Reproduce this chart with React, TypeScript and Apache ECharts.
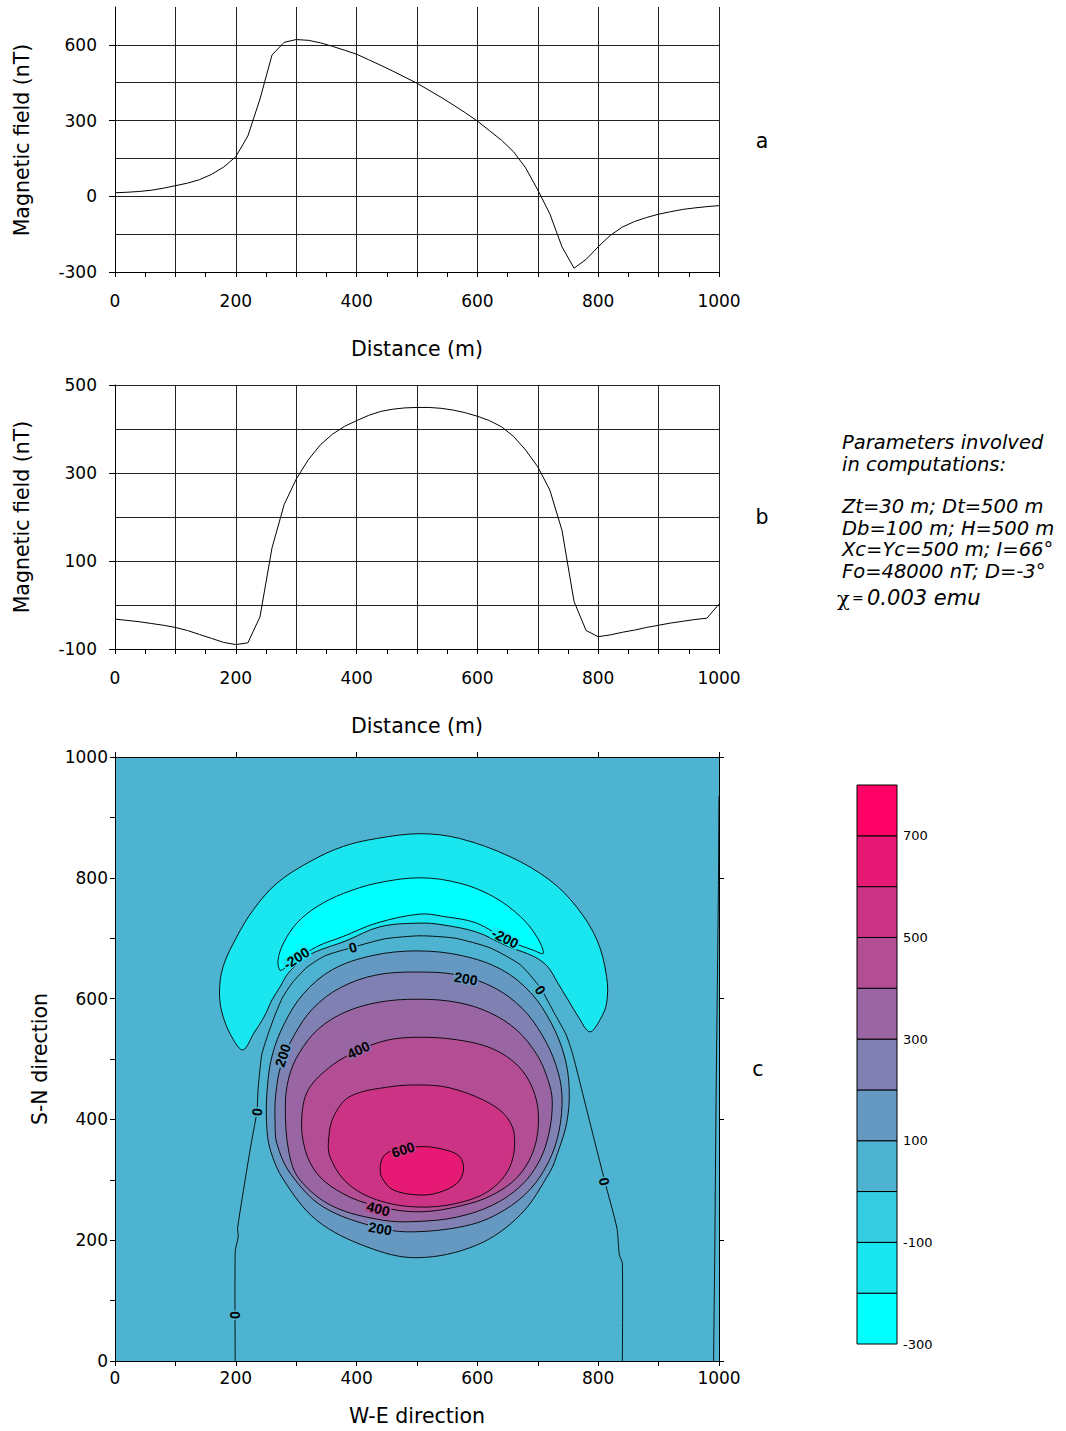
import React, { useEffect, useRef } from "react";
import * as echarts from "echarts";

// ---- Profile data (distance in m, field in nT) ----
const DIST = [
  0, 20, 40, 60, 80, 100, 120, 140, 160, 180, 200, 220, 240, 260, 280, 300, 320, 340, 360, 380,
  400, 420, 440, 460, 480, 500, 520, 540, 560, 580, 600, 620, 640, 660, 680, 700, 720, 740, 760, 780,
  800, 820, 840, 860, 880, 900, 920, 940, 960, 980, 1000,
];
const FIELD_A = [
  14, 16, 19, 24, 32, 42, 52, 66, 87, 116, 157, 239, 385, 560, 610, 621, 618, 608, 594, 579,
  563, 541, 519, 496, 472, 448, 420, 392, 362, 331, 298, 260, 222, 176, 112, 25, -70, -200, -285, -250,
  -200, -155, -122, -100, -84, -71, -61, -52, -46, -41, -37,
];
const FIELD_B = [
  -32, -35, -38, -42, -46, -51, -58, -67, -76, -85, -90, -86, -27, 130, 228, 286, 330, 364, 388, 406,
  419, 431, 440, 445, 448, 449, 449, 447, 443, 437, 429, 419, 405, 383, 352, 314, 261, 170, 8, -58,
  -72, -68, -62, -57, -51, -46, -41, -37, -33, -30, 2,
];

// ---- Tick labels ----
const PROFILE_X_LABELS = [0, 200, 400, 600, 800, 1000];
const PROFILE_A_Y_LABELS = [-300, 0, 300, 600];
const PROFILE_B_Y_LABELS = [-100, 100, 300, 500];
const MAP_AXIS_LABELS = [0, 200, 400, 600, 800, 1000];

// ---- Contour levels and colour scale ----
const LEVELS = [-300, -200, -100, 0, 100, 200, 300, 400, 500, 600, 700, 800];
const LEVEL_LABELS = [-300, -100, 100, 300, 500, 700];
const LEVEL_COLORS = [
  "#00FFFF", "#1AE6F0", "#33CCE0", "#4DB3D1", "#6699C2", "#8080B3",
  "#9966A3", "#B34D94", "#CC3385", "#E61A75", "#FF0066",
];

// ---- Contour lines of the anomaly map (W-E m, S-N m) ----
const C_NEG100 = [
  [212, 515], [196, 532], [179, 570], [173, 609], [179, 653], [202, 703], [229, 747], [268, 791],
  [323, 827], [378, 852], [433, 865], [505, 873], [571, 865], [654, 835], [720, 796], [764, 752],
  [798, 697], [814, 636], [814, 593], [803, 565], [786, 545],
  [767, 570], [750, 598], [733, 626], [717, 652], [695, 669], [649, 687], [599, 710], [543, 722],
  [505, 725], [439, 719], [381, 695], [331, 677], [306, 661], [286, 641], [273, 619], [260, 598],
  [247, 570], [230, 543],
];
const C_NEG200 = [
  [273, 647], [270, 664], [279, 692], [301, 725], [334, 752], [378, 774], [433, 791], [505, 800],
  [571, 791], [626, 769], [671, 736], [698, 703], [709, 675], [693, 680], [649, 697], [599, 725],
  [544, 736], [505, 740], [433, 725], [378, 703], [334, 686], [301, 664], [282, 651],
];
const C_ZERO = [
  [199, 0], [199, 181], [204, 206], [203, 220], [215, 297], [226, 363], [235, 413], [237, 452],
  [243, 507], [253, 540], [265, 573], [278, 603], [295, 628], [318, 652], [348, 671], [394, 685],
  [447, 699], [505, 704], [563, 700], [621, 684], [671, 656], [704, 618], [729, 573], [747, 540],
  [758, 507], [786, 396], [811, 297], [831, 220], [835, 176], [840, 162], [840, 0],
];
const C_ZERO_EAST = [[991, 0], [993, 180], [995, 420], [997, 600], [999, 780], [1000, 935]];
const C_POS100 = [
  [500, 679], [575, 671], [640, 648], [688, 610], [722, 560], [744, 505], [752, 450], [748, 395],
  [733, 345], [720, 313], [671, 242], [599, 192], [500, 171], [417, 189], [334, 233], [279, 300],
  [257, 350], [251, 393], [252, 450], [260, 505], [280, 558], [312, 608], [360, 648], [425, 671],
];
const C_POS200 = [
  [500, 644], [568, 639], [628, 618], [674, 584], [707, 540], [730, 490], [740, 440], [735, 380],
  [718, 330], [688, 285], [645, 250], [590, 226], [500, 214], [439, 220], [345, 255], [290, 311],
  [268, 360], [265, 393], [266, 440], [275, 490], [297, 540], [328, 584], [373, 618], [432, 639],
];
const C_POS300 = [
  [500, 599], [565, 594], [620, 577], [665, 548], [698, 508], [716, 468], [724, 430], [718, 375],
  [702, 330], [672, 290], [625, 258], [565, 238], [500, 231], [444, 233], [361, 256], [306, 300],
  [288, 345], [282, 421], [288, 470], [305, 510], [337, 550], [382, 578], [437, 594],
];
const C_POS400 = [
  [500, 536], [565, 532], [625, 517], [668, 488], [692, 450], [701, 407], [695, 355], [672, 311],
  [636, 281], [585, 260], [500, 247], [417, 261], [367, 283], [334, 311], [315, 349], [309, 399],
  [320, 449], [360, 490], [405, 515], [450, 531],
];
const C_POS500 = [
  [510, 457], [555, 452], [610, 432], [645, 408], [661, 375], [654, 322], [621, 283], [566, 261],
  [500, 255], [433, 267], [384, 295], [356, 338], [354, 370], [362, 405], [389, 438], [455, 454],
];
const C_POS600 = [
  [444, 338], [461, 349], [510, 355], [549, 349], [571, 338], [577, 316], [566, 294], [533, 278],
  [500, 275], [461, 283], [444, 300], [439, 316],
];

// Contour annotations: position, text, angle (deg, anticlockwise)
const LABEL_POS = [
  [300, 667], [646, 700], [394, 685], [704, 614], [581, 633], [278, 506], [403, 515],
  [477, 350], [436, 252], [439, 219], [235, 412], [199, 76], [810, 297],
];
const LABEL_TEXT = ["-200", "-200", "0", "0", "200", "200", "400", "600", "400", "200", "0", "0", "0"];
const LABEL_ANGLE = [33, -26, 16, -55, -10, 72, 25, 18, -15, -10, 83, 90, -76];
const LABEL_BAND = [1, 1, 3, 3, 4, 4, 6, 8, 7, 4, 3, 3, 3];

const PARAM_LINES = [
  "Parameters involved",
  "in computations:",
  "Zt=30 m; Dt=500 m",
  "Db=100 m; H=500 m",
  "Xc=Yc=500 m; I=66°",
  "Fo=48000 nT; D=-3°",
];

const FONT = '"DejaVu Sans", "Liberation Sans", sans-serif';

const pick = (list: number[]) => (v: number) => (list.includes(v) ? String(v) : "");

const MAP_CONTOURS = [
  { pts: C_NEG100, band: 1, closed: true },
  { pts: C_NEG200, band: 0, closed: true },
  { pts: C_ZERO, band: -1, closed: false },
  { pts: C_ZERO_EAST, band: -1, closed: false },
  { pts: C_POS100, band: 4, closed: true },
  { pts: C_POS200, band: 5, closed: true },
  { pts: C_POS300, band: 6, closed: true },
  { pts: C_POS400, band: 7, closed: true },
  { pts: C_POS500, band: 8, closed: true },
  { pts: C_POS600, band: 9, closed: true },
];

function profileXAxis(gridIndex: number) {
  return {
    gridIndex,
    type: "value",
    min: 0,
    max: 1000,
    interval: 100,
    axisLine: { show: true, onZero: false, lineStyle: { color: "#000", width: 1 } },
    axisTick: { show: true, length: 5, lineStyle: { color: "#000" } },
    minorTick: { show: true, splitNumber: 2, length: 5, lineStyle: { color: "#000" } },
    axisLabel: { margin: 20, fontSize: 17, color: "#000", fontFamily: FONT, formatter: pick(PROFILE_X_LABELS) },
    splitLine: { show: true, lineStyle: { color: "#222", width: 1 } },
  };
}

function axisName(text: string, x: number, y: number, vertical: boolean) {
  return {
    type: "text",
    x,
    y,
    rotation: vertical ? Math.PI / 2 : 0,
    style: {
      text,
      fontSize: 20.5,
      fontFamily: FONT,
      fill: "#000",
      align: "center",
      verticalAlign: "middle",
    },
  };
}

export default function App() {
  const ref = useRef<HTMLDivElement>(null);

  useEffect(() => {
    if (!ref.current) return;
    const chart = echarts.init(ref.current, null, { renderer: "svg" });

    const option: any = {
      animation: false,
      backgroundColor: "#fff",
      textStyle: { fontFamily: FONT },
      grid: [
        { left: 115, top: 7, width: 604, height: 265 },
        { left: 115, top: 385, width: 604, height: 264 },
        { left: 115, top: 757, width: 604, height: 604, show: true, backgroundColor: LEVEL_COLORS[3], borderWidth: 0 },
        { left: 857, top: 785, width: 40, height: 559 },
      ],
      xAxis: [
        profileXAxis(0),
        profileXAxis(1),
        {
          gridIndex: 2, type: "value", min: 0, max: 1000, interval: 100, position: "bottom", z: 10,
          axisLine: { show: true, onZero: false, lineStyle: { color: "#000", width: 1 } },
          axisTick: { show: true, length: 5, lineStyle: { color: "#000" } },
          axisLabel: { margin: 8, fontSize: 17, color: "#000", fontFamily: FONT, formatter: pick(MAP_AXIS_LABELS) },
          splitLine: { show: false },
        },
        {
          gridIndex: 2, type: "value", min: 0, max: 1000, interval: 200, position: "top", z: 10,
          axisLine: { show: true, onZero: false, lineStyle: { color: "#000", width: 1 } },
          axisTick: { show: true, length: 5, lineStyle: { color: "#000" } },
          axisLabel: { show: false },
          splitLine: { show: false },
        },
        { gridIndex: 3, type: "value", min: 0, max: 1, show: false },
      ],
      yAxis: [
        {
          gridIndex: 0, type: "value", min: -300, max: 750, interval: 150, position: "left",
          axisLine: { show: true, onZero: false, lineStyle: { color: "#000", width: 1 } },
          axisTick: { show: false },
          axisLabel: { margin: 18, fontSize: 17, color: "#000", fontFamily: FONT, formatter: pick(PROFILE_A_Y_LABELS) },
          splitLine: { show: true, showMaxLine: false, lineStyle: { color: "#222", width: 1 } },
        },
        {
          gridIndex: 1, type: "value", min: -100, max: 500, interval: 100, position: "left",
          axisLine: { show: true, onZero: false, lineStyle: { color: "#000", width: 1 } },
          axisTick: { show: false },
          axisLabel: { margin: 18, fontSize: 17, color: "#000", fontFamily: FONT, formatter: pick(PROFILE_B_Y_LABELS) },
          splitLine: { show: true, lineStyle: { color: "#222", width: 1 } },
        },
        {
          gridIndex: 2, type: "value", min: 0, max: 1000, interval: 100, position: "left", z: 10,
          axisLine: { show: true, onZero: false, lineStyle: { color: "#000", width: 1 } },
          axisTick: { show: true, length: 5, lineStyle: { color: "#000" } },
          axisLabel: { margin: 7, fontSize: 17, color: "#000", fontFamily: FONT, formatter: pick(MAP_AXIS_LABELS) },
          splitLine: { show: false },
        },
        {
          gridIndex: 2, type: "value", min: 0, max: 1000, interval: 200, position: "right", z: 10,
          axisLine: { show: true, onZero: false, lineStyle: { color: "#000", width: 1 } },
          axisTick: { show: true, length: 5, lineStyle: { color: "#000" } },
          axisLabel: { show: false },
          splitLine: { show: false },
        },
        {
          gridIndex: 3, type: "value", min: -300, max: 800, interval: 100, position: "right",
          axisLine: { show: false },
          axisTick: { show: false },
          axisLabel: { margin: 6, fontSize: 13, color: "#000", fontFamily: FONT, formatter: pick(LEVEL_LABELS) },
          splitLine: { show: false },
        },
        {
          gridIndex: 0, type: "value", min: -300, max: 750, interval: 300, position: "left",
          axisLine: { show: false },
          axisTick: { show: true, length: 6, customValues: PROFILE_A_Y_LABELS, lineStyle: { color: "#000" } },
          axisLabel: { show: false },
          splitLine: { show: false },
        },
        {
          gridIndex: 1, type: "value", min: -100, max: 500, interval: 200, position: "left",
          axisLine: { show: false },
          axisTick: { show: true, length: 6, lineStyle: { color: "#000" } },
          axisLabel: { show: false },
          splitLine: { show: false },
        },
      ],
      series: [
        {
          type: "line",
          xAxisIndex: 0,
          yAxisIndex: 0,
          data: DIST.map((d, i) => [d, FIELD_A[i]]),
          showSymbol: false,
          lineStyle: { color: "#000", width: 1 },
          z: 5,
        },
        {
          type: "line",
          xAxisIndex: 1,
          yAxisIndex: 1,
          data: DIST.map((d, i) => [d, FIELD_B[i]]),
          showSymbol: false,
          lineStyle: { color: "#000", width: 1 },
          z: 5,
        },
        {
          type: "custom",
          xAxisIndex: 2,
          yAxisIndex: 2,
          clip: true,
          z: 2,
          data: MAP_CONTOURS.map((c) => c.pts[0]),
          renderItem: (params: any, api: any) => {
            const c = MAP_CONTOURS[params.dataIndex];
            const points = c.pts.map((p) => api.coord(p));
            if (c.closed) {
              return {
                type: "polygon",
                shape: { points, smooth: 0.35 },
                style: { fill: LEVEL_COLORS[c.band], stroke: "#000", lineWidth: 0.9 },
              };
            }
            return {
              type: "polyline",
              shape: { points, smooth: 0.2 },
              style: { fill: null, stroke: "#000", lineWidth: 0.9 },
            };
          },
        },
        {
          type: "custom",
          xAxisIndex: 2,
          yAxisIndex: 2,
          clip: true,
          z: 3,
          data: LABEL_POS,
          renderItem: (params: any, api: any) => {
            const i = params.dataIndex;
            const p = api.coord(LABEL_POS[i]);
            return {
              type: "text",
              x: p[0],
              y: p[1],
              rotation: (LABEL_ANGLE[i] * Math.PI) / 180,
              style: {
                text: LABEL_TEXT[i],
                fontSize: 14,
                fontWeight: "bold",
                fontFamily: '"Liberation Sans", Arial, sans-serif',
                fill: "#000",
                align: "center",
                verticalAlign: "middle",
                backgroundColor: LEVEL_COLORS[LABEL_BAND[i]],
                padding: [0, 1],
                lineHeight: 12,
              },
            };
          },
        },
        {
          type: "custom",
          xAxisIndex: 4,
          yAxisIndex: 4,
          z: 2,
          data: LEVEL_COLORS.map((_, i) => [0, LEVELS[i]]),
          renderItem: (params: any, api: any) => {
            const i = params.dataIndex;
            const lo = api.coord([0, LEVELS[i]]);
            const hi = api.coord([1, LEVELS[i + 1]]);
            return {
              type: "rect",
              shape: { x: lo[0], y: hi[1], width: hi[0] - lo[0], height: lo[1] - hi[1] },
              style: { fill: LEVEL_COLORS[i], stroke: "#000", lineWidth: 1 },
            };
          },
        },
      ],
      graphic: [
        axisName("Magnetic field (nT)", 22, 140, true),
        axisName("Distance (m)", 417, 349, false),
        axisName("Magnetic field (nT)", 22, 517, true),
        axisName("Distance (m)", 417, 726, false),
        axisName("S-N direction", 40, 1059, true),
        axisName("W-E direction", 417, 1416, false),
        axisName("a", 762, 141, false),
        axisName("b", 762, 517, false),
        axisName("c", 758, 1069, false),
        ...PARAM_LINES.map((t, i) => ({
          type: "text",
          x: 842,
          y: [442, 464, 506, 528, 549, 571][i],
          style: {
            text: t,
            fontSize: 19.5,
            fontStyle: "italic",
            fontFamily: FONT,
            fill: "#000",
            align: "left",
            verticalAlign: "middle",
          },
        })),
        {
          type: "text",
          x: 837,
          y: 599,
          style: { text: "χ", fontSize: 21, fontFamily: '"DejaVu Serif", serif', fill: "#000", align: "left", verticalAlign: "middle" },
        },
        {
          type: "text",
          x: 852,
          y: 598,
          style: { text: "=", fontSize: 14, fontFamily: FONT, fill: "#000", align: "left", verticalAlign: "middle" },
        },
        {
          type: "text",
          x: 867,
          y: 598,
          style: { text: "0.003 emu", fontSize: 21, fontStyle: "italic", fontFamily: FONT, fill: "#000", align: "left", verticalAlign: "middle" },
        },
      ],
    };

    chart.setOption(option);
    return () => chart.dispose();
  }, []);

  return (
    <div
      ref={ref}
      style={{ position: "absolute", left: 0, top: 0, width: 1066, height: 1431, background: "#fff" }}
    />
  );
}
